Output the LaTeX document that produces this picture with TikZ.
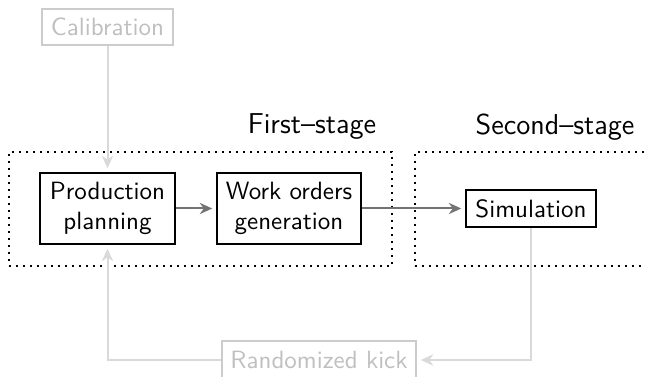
\documentclass[tikz,border=0pt]{standalone}
\usetikzlibrary{arrows.meta}
\begin{document}
\begin{tikzpicture}[x=0.4pt,y=-0.4pt,
  font=\sffamily,
  procbox/.style={draw=black,line width=0.8pt,inner sep=0pt,align=center},
  faintbox/.style={draw=black!20,text=black!25,line width=0.8pt,inner sep=0pt,align=center},
  stagebox/.style={draw=black,line width=0.8pt,dotted,inner sep=0pt},
  stagelabel/.style={font=\sffamily\fontsize{11.5}{14}\selectfont,inner sep=0pt},
  flow/.style={draw=black!55,line width=0.8pt,-{Stealth[length=5pt,width=4.5pt]},shorten >=1.5pt},
  faintflow/.style={draw=black!15,line width=0.8pt,-{Stealth[length=5pt,width=4.5pt]},shorten >=1.5pt}]
\path[use as bounding box] (0,0) rectangle (645,377);
\clip (0,0) rectangle (645,377);

% stage groups
\node[stagebox,minimum width=153.2pt,minimum height=45.6pt] (s1) at (200.5,208.7) {};
\node[stagebox,minimum width=114pt,minimum height=45.6pt] (s2) at (557,208.7) {};
\node[stagelabel] (l1) at (312,127) {First\textendash stage};
\node[stagelabel] (l2) at (555,127) {Second\textendash stage};

% process steps
\node[procbox,minimum width=53.6pt,minimum height=28.4pt] (prod) at (107.5,208.5) {Production\\planning};
\node[procbox,minimum width=57.6pt,minimum height=28.4pt] (work) at (289,208.5) {Work orders\\generation};
\node[procbox,minimum width=52pt,minimum height=14.8pt] (sim) at (531,208.5) {Simulation};

% auxiliary steps
\node[faintbox,minimum width=52.4pt,minimum height=14.4pt] (cal) at (107.5,27) {Calibration};
\node[faintbox,minimum width=77.6pt,minimum height=14.8pt] (kick) at (319,360) {Randomized kick};

% connectors
\draw[flow] (prod) -- (work);
\draw[flow] (work) -- (sim);
\draw[faintflow] (cal) -- (prod);
\draw[faintflow] (sim.south) |- (kick.east);
\draw[faintflow] (kick.west) -| (prod.south);
\end{tikzpicture}
\end{document}
